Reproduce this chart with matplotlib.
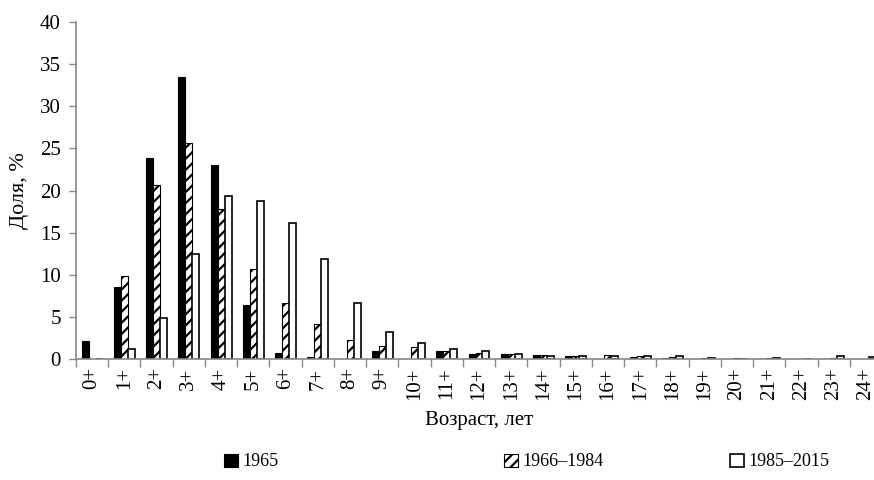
import numpy as np
import matplotlib.pyplot as plt

plt.rcParams['font.family'] = ['Liberation Serif', 'DejaVu Serif']
plt.rcParams['hatch.linewidth'] = 1.6

ages = [f"{i}+" for i in range(25)]
v1965 = [2.1, 8.5, 23.8, 33.5, 23.0, 6.4, 0.7, 0.2, 0.0, 1.0,
         0.0, 0.9, 0.6, 0.6, 0.5, 0.4, 0.0, 0.2, 0.1, 0.0,
         0.0, 0.0, 0.0, 0.0, 0.0]
v1966_1984 = [0.0, 9.8, 20.7, 25.6, 17.8, 10.7, 6.7, 4.1, 2.3, 1.5,
              1.4, 1.0, 0.7, 0.6, 0.5, 0.4, 0.5, 0.3, 0.2, 0.15,
              0.1, 0.15, 0.05, 0.1, 0.0]
v1985_2015 = [0.0, 1.2, 4.9, 12.5, 19.3, 18.7, 16.2, 11.9, 6.6, 3.2,
              1.9, 1.2, 0.9, 0.6, 0.4, 0.4, 0.3, 0.3, 0.35, 0.1,
              0.05, 0.1, 0.0, 0.3, 0.2]
labels = ["1965", "1966\u20131984", "1985\u20132015"]

fig = plt.figure(figsize=(8.74, 4.8), dpi=100)
ax = fig.add_axes([76/874, 1-359/480, (882-76)/874, (359-22)/480])

x = np.arange(len(ages))
w = 0.217
b1 = ax.bar(x - w, v1965, w, color="black", edgecolor="black", linewidth=0.8)
b2 = ax.bar(x, v1966_1984, w, color="white", edgecolor="black", hatch="///", linewidth=0.8)
b3 = ax.bar(x + w, v1985_2015, w, color="white", edgecolor="black", linewidth=1.2)

ax.set_xlim(-0.5, len(ages) - 0.5)
ax.set_ylim(0, 40)
ax.set_yticks(range(0, 41, 5))
ax.set_xticks(x)
ax.set_xticklabels(ages, rotation=90)
ax.set_xticks(np.arange(-0.5, len(ages), 1), minor=True)
ax.tick_params(axis="x", which="major", length=0, labelsize=15, pad=6)
ax.tick_params(axis="x", which="minor", length=6, color="#888888", width=1)
ax.tick_params(axis="y", length=5, color="#888888", width=1, labelsize=15, pad=6)

for s in ["top", "right"]:
    ax.spines[s].set_visible(False)
for s in ["left", "bottom"]:
    ax.spines[s].set_color("#888888")
    ax.spines[s].set_linewidth(1.2)

ax.set_ylabel("Доля, %", fontsize=16)
ax.yaxis.set_label_coords(-0.058, 0.5)
ax.set_xlabel("Возраст, лет", fontsize=15, labelpad=8)

for h, lab, xpos in zip([b1, b2, b3], labels, [224, 504, 730]):
    fig.legend([h], [lab], loc="center left", bbox_to_anchor=(xpos/874, 1-462/480),
               frameon=False, fontsize=13, handlelength=0.75, handleheight=0.75,
               handletextpad=0.25, borderpad=0, borderaxespad=0)

fig.savefig("out.png", dpi=100)
